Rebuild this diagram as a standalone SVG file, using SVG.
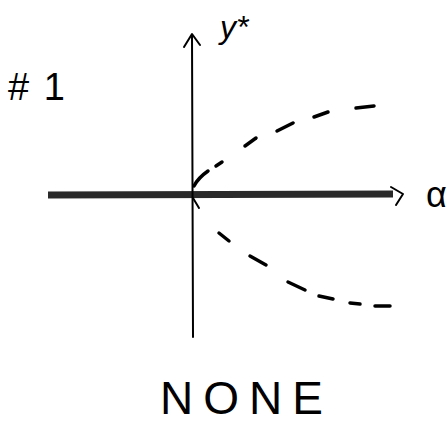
<svg xmlns="http://www.w3.org/2000/svg" width="447" height="423" viewBox="0 0 447 423">
<style>
.ax{stroke:#000;stroke-width:2;fill:none;stroke-linecap:round;stroke-linejoin:round}
.thick{stroke:#2a2a2a;stroke-width:7;fill:none;stroke-linecap:butt}
.dash{stroke:#000;stroke-width:3.5;fill:none;stroke-linecap:round}
.t{font-family:"Liberation Sans",Arial,sans-serif;fill:#000}
</style>
<rect width="447" height="423" fill="#fff"/>
<g id="axes">
<path class="thick" d="M48,195 L393,194"/>
<path class="ax" d="M391,187 L403,194 L396,205"/>
<path class="ax" d="M192,35 L193,337"/>
<path class="ax" d="M184,47 L192,34 L200,45"/>
<path class="ax" d="M193,198 L199,208" stroke-width="4"/>
</g>
<g id="curves">
<path class="dash" d="M194,186 Q198,178 208,171"/>
<path class="dash" d="M216,166 L222,162"/>
<path class="dash" d="M245,146 L256,138"/>
<path class="dash" d="M277,131 L293,123"/>
<path class="dash" d="M314,117 L328,112"/>
<path class="dash" d="M356,108 L374,106"/>
<path class="dash" d="M219,233 L229,241"/>
<path class="dash" d="M250,256 L266,265"/>
<path class="dash" d="M288,282 L305,290"/>
<path class="dash" d="M319,296 L333,299"/>
<path class="dash" d="M350,303 L360,304"/>
<path class="dash" d="M375,306 L390,306"/>
</g>
<g id="labels">
<text class="t" x="220" y="38" font-size="32" font-style="italic">y*</text>
<text class="t" x="8" y="100" font-size="38" textLength="57" lengthAdjust="spacing">#1</text>
<text class="t" x="426" y="207" font-size="36">α</text>
<text class="t" x="160" y="414" font-size="46" textLength="163" lengthAdjust="spacing">NONE</text>
</g>
</svg>
